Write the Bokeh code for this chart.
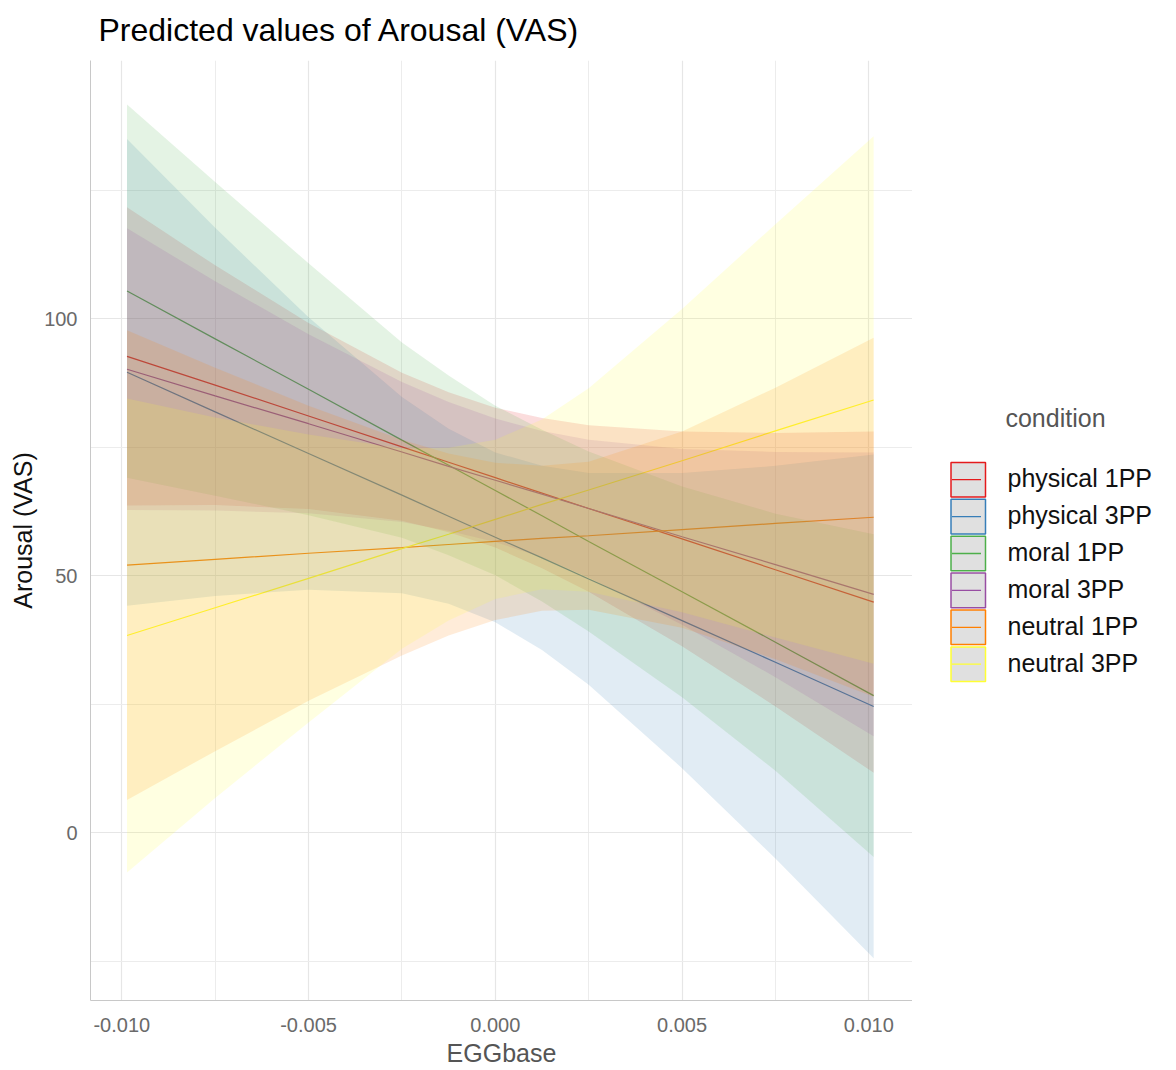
from bokeh.plotting import figure
from bokeh.layouts import row
from bokeh.models import Range1d, FixedTicker, PrintfTickFormatter
from bokeh.core.properties import value
from bokeh.embed import file_html
from bokeh.resources import INLINE

# ---- data ----
egg = [-0.00986, -0.0075, -0.005, -0.0025, -0.00125, 0.0, 0.00125, 0.0025, 0.005, 0.0075, 0.01013]

conditions = ["physical 1PP", "physical 3PP", "moral 1PP", "moral 3PP", "neutral 1PP", "neutral 3PP"]
colors = ["#E41A1C", "#377EB8", "#4DAF4A", "#984EA3", "#FF7F00", "#FFFF33"]

physical_1pp_fit = [92.7, 87.1, 81.1, 75.1, 72.1, 69.1, 66.1, 63.1, 57.2, 51.2, 44.9]
physical_1pp_low = [63.7, 63.8, 63.0, 60.7, 58.5, 55.5, 51.5, 46.9, 36.3, 24.6, 11.7]
physical_1pp_high = [121.7, 110.4, 99.2, 89.5, 85.7, 82.7, 80.7, 79.3, 78.1, 77.8, 78.1]

physical_3pp_fit = [89.6, 81.9, 73.8, 65.7, 61.6, 57.5, 53.5, 49.4, 41.3, 33.2, 24.6]
physical_3pp_low = [44.2, 46.1, 47.3, 46.6, 44.6, 41.0, 35.6, 28.8, 12.6, -5.0, -24.4]
physical_3pp_high = [135.0, 117.7, 100.3, 84.8, 78.6, 74.0, 71.4, 70.0, 70.0, 71.4, 73.6]

moral_1pp_fit = [105.4, 96.1, 86.3, 76.4, 71.5, 66.6, 61.7, 56.7, 46.9, 37.1, 26.7]
moral_1pp_low = [69.1, 65.6, 61.8, 57.4, 54.0, 50.1, 45.0, 39.2, 26.4, 12.1, -4.7]
moral_1pp_high = [141.7, 126.6, 110.8, 95.4, 89.0, 83.1, 78.4, 74.2, 67.4, 62.1, 58.1]

moral_3pp_fit = [90.2, 85.0, 79.6, 74.1, 71.3, 68.6, 65.9, 63.1, 57.6, 52.2, 46.4]
moral_3pp_low = [62.8, 62.7, 62.2, 60.5, 58.8, 56.6, 53.6, 49.7, 40.5, 30.3, 18.8]
moral_3pp_high = [117.6, 107.3, 97.0, 87.7, 83.8, 80.6, 78.2, 76.5, 74.7, 74.1, 74.0]

neutral_1pp_fit = [52.1, 53.2, 54.4, 55.5, 56.1, 56.7, 57.3, 57.8, 59.0, 60.2, 61.4]
neutral_1pp_low = [6.4, 15.9, 25.7, 34.5, 38.4, 41.4, 43.2, 43.4, 39.9, 33.8, 26.5]
neutral_1pp_high = [97.8, 90.5, 83.1, 76.5, 73.8, 72.0, 71.4, 72.2, 78.1, 86.6, 96.3]

neutral_3pp_fit = [38.4, 43.8, 49.5, 55.3, 58.1, 61.0, 63.9, 66.7, 72.4, 78.2, 84.2]
neutral_3pp_low = [-7.7, 6.8, 21.5, 35.8, 41.3, 45.5, 47.4, 46.9, 42.9, 38.0, 32.9]
neutral_3pp_high = [84.5, 80.8, 77.5, 74.8, 74.9, 76.5, 80.4, 86.5, 101.9, 118.4, 135.5]

x_ticks = [-0.01, -0.005, 0.0, 0.005, 0.01]
x_minor = [-0.0075, -0.0025, 0.0025, 0.0075]
y_ticks = [0, 50, 100]
y_minor = [-25, 25, 75, 125]

fits = [physical_1pp_fit, physical_3pp_fit, moral_1pp_fit, moral_3pp_fit, neutral_1pp_fit, neutral_3pp_fit]
lows = [physical_1pp_low, physical_3pp_low, moral_1pp_low, moral_3pp_low, neutral_1pp_low, neutral_3pp_low]
highs = [physical_1pp_high, physical_3pp_high, moral_1pp_high, moral_3pp_high, neutral_1pp_high, neutral_3pp_high]

FONT = "Liberation Sans"

p = figure(width=912, height=1070, output_backend="svg", toolbar_location=None,
           x_range=Range1d(-0.010838, 0.011170), y_range=Range1d(-32.6, 150.25),
           min_border_left=90, min_border_right=0, min_border_top=60, min_border_bottom=70)
p.background_fill_color = "white"
p.border_fill_color = "white"
p.outline_line_color = None

# title
p.title.text = "Predicted values of Arousal (VAS)"
p.title.text_font = FONT
p.title.text_font_size = "32px"
p.title.text_font_style = "normal"
p.title.text_color = "#000000"
p.title.offset = 8
p.title.standoff = 22
p.title.vertical_align = "top"

# axes
p.xaxis.ticker = FixedTicker(ticks=x_ticks, minor_ticks=x_minor)
p.yaxis.ticker = FixedTicker(ticks=y_ticks, minor_ticks=y_minor)
p.xaxis.formatter = PrintfTickFormatter(format="%.3f")
p.xaxis.axis_label = "EGGbase"
p.yaxis.axis_label = "Arousal (VAS)"
for ax in (p.xaxis, p.yaxis):
    ax.axis_line_color = "#c8c8c8"
    ax.axis_line_width = 1
    ax.major_tick_line_color = None
    ax.minor_tick_line_color = None
    ax.major_tick_out = 0
    ax.major_tick_in = 0
    ax.minor_tick_out = 0
    ax.major_label_text_font = FONT
    ax.major_label_text_font_size = "20px"
    ax.major_label_text_color = "#6a6a6a"
    ax.axis_label_text_font = FONT
    ax.axis_label_text_font_size = "25px"
    ax.axis_label_text_font_style = "normal"
p.xaxis.axis_label_text_color = "#555555"
p.yaxis.axis_label_text_color = "#111111"
p.xaxis.major_label_standoff = 17
p.yaxis.major_label_standoff = 13
p.xaxis.axis_label_standoff = 4
p.yaxis.axis_label_standoff = 4

for g in (p.xgrid, p.ygrid):
    g.grid_line_color = "#e6e6e6"
    g.grid_line_width = 1.2
    g.minor_grid_line_color = "#ececec"
    g.minor_grid_line_width = 1

# lines first, ribbons over them
for col, fit in zip(colors, fits):
    p.line(egg, fit, line_color=col, line_width=1.2)

for col, lo, hi in zip(colors, lows, highs):
    p.varea(x=egg, y1=lo, y2=hi, fill_color=col, fill_alpha=0.15)

# ---- legend panel (separate figure; its frame is aligned with the main frame, 60..1000 px) ----
lg = figure(width=264, height=1070, output_backend="svg", toolbar_location=None,
            x_range=Range1d(0, 264), y_range=Range1d(1000, 60),
            min_border=0, x_axis_type=None, y_axis_type=None)
lg.outline_line_color = None
lg.grid.visible = False
lg.background_fill_color = "white"
lg.border_fill_color = "white"

n = len(conditions)
row_y = [479.2 + 36.9 * i for i in range(n)]
lg.quad(left=[38.5] * n, right=[73.0] * n,
        top=[y - 17.3 for y in row_y], bottom=[y + 17.3 for y in row_y],
        fill_color="#e0e0e0", line_color=colors, line_width=1.5)
lg.segment(x0=[39.5] * n, x1=[68.5] * n, y0=row_y, y1=row_y, line_color=colors, line_width=1.3)
lg.text(x=[95] * n, y=[y - 1.5 for y in row_y], text=conditions, text_font=value(FONT), text_font_size="25px",
        text_color="#111111", text_align="left", text_baseline="middle")
lg.text(x=[143], y=[417], text=["condition"], text_font=value(FONT), text_font_size="25px",
        text_color="#555555", text_align="center", text_baseline="middle")

layout = row(p, lg, spacing=0)
open("out.html", "w").write(file_html(layout, INLINE))
